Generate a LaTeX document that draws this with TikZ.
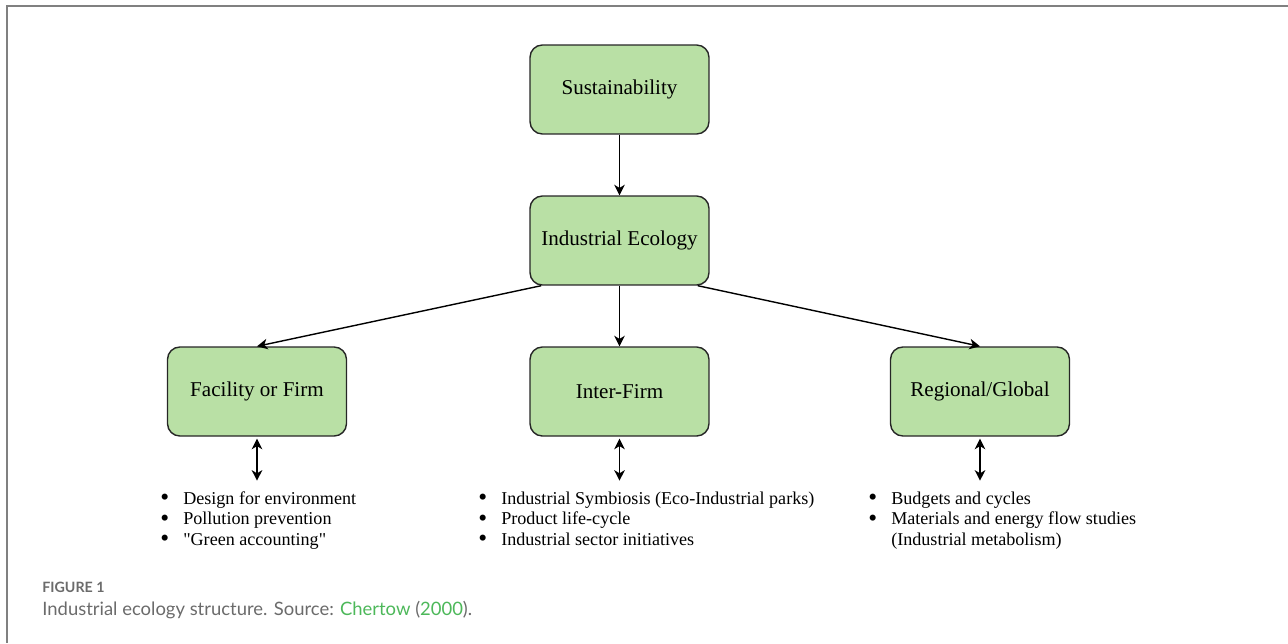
\documentclass[tikz,border=0pt]{standalone}
\usepackage{fontspec}
\setmainfont{Liberation Serif}[Ligatures=TeXOff]
\newfontfamily\capfont{Lato}
\usepackage{tikz}
\usetikzlibrary{calc,shapes,arrows.meta}

\definecolor{boxgreen}{HTML}{B9E0A5}
\definecolor{capgray}{HTML}{6B6B6B}
\definecolor{capgreen}{HTML}{4DB85A}

\newcommand{\dotmark}{\smash{\raisebox{-1pt}{\scalebox{1.4}{\textbullet}}}}
\newcommand{\bulletlist}[1]{%
  \begin{tabular}[t]{@{}l@{\hspace{8pt}}l@{}}#1\end{tabular}}

\begin{document}
\begin{tikzpicture}[x=0.02cm,y=-0.02cm,
    >={Stealth[length=6pt,width=6pt,inset=1.8pt]},
    levelbox/.style={draw=black!85,fill=boxgreen,rounded corners=7pt,
      line width=0.8pt,minimum width=3.58cm,minimum height=1.78cm,
      font=\fontsize{12}{14}\selectfont},
    link/.style={line width=0.8pt,->},
    twoway/.style={line width=0.8pt,<->},
    listtext/.style={anchor=base west,inner sep=0pt,
      font=\fontsize{10.3}{11.7}\selectfont}]
        \useasboundingbox (0,0) rectangle (1288,643);
        \draw[gray,line width=1.1pt] (1288,6) -- (7,6) -- (7,643);

        \node[levelbox] (sust) at (619.5,89.5) {Sustainability};
        \node[levelbox] (ie) at (619.5,240.5) {Industrial Ecology};
        \node[levelbox] (firm) at (257,391.5) {Facility or Firm};
        \node[levelbox] (inter) at (619.5,391.5) {Inter-Firm};
        \node[levelbox] (region) at (980,391.5) {Regional/Global};

        \draw[link] (sust) -- (ie);
        \draw[link] (ie.210) -- (firm.north);
        \draw[link] (ie) -- (inter);
        \draw[link] (ie.-30) -- (region.north);

        \node[listtext] (firmlist) at (160,504) {\bulletlist{%
            \dotmark & Design for environment\\
            \dotmark & Pollution prevention\\
            \dotmark & "Green accounting"}};
        \node[listtext] (interlist) at (478,504) {\bulletlist{%
            \dotmark & Industrial Symbiosis (Eco-Industrial parks)\\
            \dotmark & Product life-cycle\\
            \dotmark & Industrial sector initiatives}};
        \node[listtext] (regionlist) at (868,504) {\bulletlist{%
            \dotmark & Budgets and cycles\\
            \dotmark & Materials and energy flow studies\\
                     & (Industrial metabolism)}};

        \foreach \b in {firm,inter,region}
        \draw[twoway] (\b.south) ++(0,2) -- ++(0,42);

        \node[anchor=base west,inner sep=0pt,text=capgray,
          font=\capfont\bfseries\fontsize{8.1}{9}\selectfont] (fig) at (42,592) {FIGURE 1};
        \node[anchor=base west,inner sep=0pt,text=capgray,
          font=\capfont\fontsize{10.5}{12}\selectfont] (caption) at (42,615)
          {Industrial ecology structure. Source: \textcolor{capgreen}{Chertow} (\textcolor{capgreen}{2000}).};
    \end{tikzpicture}
\end{document}
